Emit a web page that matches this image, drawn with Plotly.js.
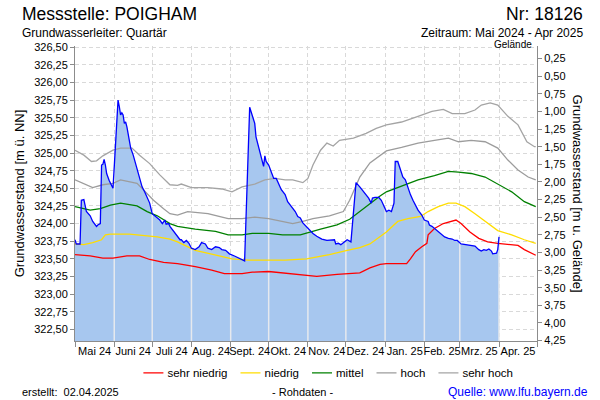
<!DOCTYPE html>
<html><head><meta charset="utf-8">
<script src="https://cdn.plot.ly/plotly-3.0.1.min.js"></script>
<style>html,body{margin:0;padding:0;background:#fff}#chart{width:600px;height:400px}#dbg{position:absolute;left:200px;top:0;color:red;font:10px sans-serif}</style>
</head><body><div id="chart"></div><div id="dbg"></div>
<script>
// ---- data ----
const monthStarts = ["2024-05-01","2024-06-01","2024-07-01","2024-08-01","2024-09-01","2024-10-01","2024-11-01","2024-12-01","2025-01-01","2025-02-01","2025-03-01","2025-04-01","2025-05-01"];
const monthLabels = ["Mai 24","Juni 24","Juli 24","Aug. 24","Sept. 24","Okt. 24","Nov. 24","Dez. 24","Jan. 25","Feb. 25","Mrz. 25","Apr. 25"];

const levelDates = ["2024-05-01","2024-05-02","2024-05-05","2024-05-06","2024-05-08","2024-05-09","2024-05-10","2024-05-13","2024-05-15","2024-05-18","2024-05-19","2024-05-21","2024-05-22","2024-05-23","2024-05-24","2024-05-25","2024-05-26","2024-05-28","2024-05-30","2024-05-31",
"2024-06-01","2024-06-02","2024-06-03","2024-06-04","2024-06-05","2024-06-06","2024-06-07","2024-06-08","2024-06-09","2024-06-10","2024-06-11","2024-06-12","2024-06-13","2024-06-14","2024-06-16","2024-06-18","2024-06-19","2024-06-21","2024-06-23","2024-06-25","2024-06-27","2024-06-29",
"2024-07-01","2024-07-04","2024-07-07","2024-07-09","2024-07-11","2024-07-12","2024-07-14","2024-07-15","2024-07-18","2024-07-20","2024-07-23","2024-07-24","2024-07-26","2024-07-28","2024-07-30",
"2024-08-01","2024-08-04","2024-08-07","2024-08-09","2024-08-12","2024-08-14","2024-08-17","2024-08-20","2024-08-23","2024-08-25","2024-08-28","2024-08-31",
"2024-09-04","2024-09-07","2024-09-10","2024-09-12","2024-09-16","2024-09-18","2024-09-20","2024-09-21","2024-09-23","2024-09-25","2024-09-27","2024-09-28","2024-09-29",
"2024-10-01","2024-10-03","2024-10-05","2024-10-07","2024-10-09","2024-10-11","2024-10-14","2024-10-16","2024-10-19","2024-10-22","2024-10-24","2024-10-26","2024-10-28","2024-10-31",
"2024-11-03","2024-11-05","2024-11-08","2024-11-12","2024-11-16","2024-11-20","2024-11-22","2024-11-23","2024-11-25","2024-11-27","2024-11-29",
"2024-12-02","2024-12-05","2024-12-09","2024-12-12","2024-12-15","2024-12-17","2024-12-19","2024-12-21","2024-12-22","2024-12-24","2024-12-27","2024-12-29","2024-12-31",
"2025-01-02","2025-01-04","2025-01-06","2025-01-08","2025-01-09","2025-01-11","2025-01-13","2025-01-14","2025-01-15","2025-01-17","2025-01-19","2025-01-21","2025-01-23","2025-01-25","2025-01-27","2025-01-30",
"2025-02-01","2025-02-04","2025-02-05","2025-02-07","2025-02-09","2025-02-12","2025-02-15","2025-02-17","2025-02-20","2025-02-23","2025-02-25","2025-02-27",
"2025-03-02","2025-03-05","2025-03-09","2025-03-13","2025-03-16","2025-03-18","2025-03-20","2025-03-22","2025-03-24","2025-03-26","2025-03-27","2025-03-30","2025-03-31","2025-04-01"];
const levelValues = [323.77,323.71,323.71,324.33,324.34,324.26,324.17,324.11,324.03,323.96,323.98,324.00,324.83,324.84,324.91,324.83,324.71,324.61,324.52,324.50,
324.80,325.18,325.44,325.75,325.66,325.54,325.57,325.54,325.42,325.44,325.37,325.28,325.18,325.07,324.97,324.83,324.76,324.62,324.52,324.45,324.38,324.29,
324.14,324.10,324.05,324.00,324.05,323.99,324.00,323.96,323.89,323.84,323.77,323.77,323.73,323.76,323.72,
323.65,323.63,323.67,323.73,323.71,323.65,323.63,323.67,323.66,323.63,323.62,323.57,
323.54,323.51,323.49,323.47,325.65,325.54,325.42,325.23,325.09,324.95,324.81,324.96,324.88,
324.83,324.72,324.64,324.64,324.57,324.48,324.41,324.31,324.24,324.17,324.10,324.08,324.01,323.95,
323.90,323.86,323.82,323.78,323.76,323.76,323.77,323.71,323.72,323.70,323.73,
323.77,323.74,324.58,324.52,324.45,324.39,324.36,324.29,324.36,324.37,324.37,324.33,324.26,
324.17,324.19,324.17,324.29,324.88,324.88,324.76,324.71,324.66,324.62,324.50,324.41,324.33,324.26,324.19,324.12,
324.05,324.03,323.98,323.96,323.93,323.89,323.84,323.81,323.79,323.78,323.76,323.76,
323.71,323.70,323.69,323.68,323.63,323.61,323.63,323.62,323.64,323.61,323.57,323.58,323.63,323.81];

const sehrNiedrigDates = ["2024-05-01","2024-05-13","2024-05-23","2024-05-31","2024-06-11","2024-06-21","2024-06-29","2024-07-10","2024-07-21","2024-08-04","2024-08-17","2024-08-27","2024-09-10","2024-09-18","2024-10-01","2024-10-12","2024-10-26","2024-11-08","2024-11-24","2024-12-12","2024-12-20","2024-12-28","2025-01-02","2025-01-18","2025-01-21","2025-01-25","2025-01-30","2025-02-03","2025-02-04","2025-02-09","2025-02-16","2025-02-23","2025-02-26","2025-03-02","2025-03-09","2025-03-16","2025-03-23","2025-03-31","2025-04-08","2025-04-16","2025-04-21","2025-04-28","2025-04-30"];
const sehrNiedrigValues = [323.56,323.54,323.51,323.51,323.54,323.54,323.49,323.45,323.43,323.39,323.34,323.29,323.29,323.31,323.32,323.30,323.28,323.25,323.28,323.30,323.37,323.42,323.43,323.43,323.50,323.60,323.67,323.72,323.84,323.93,324.00,324.03,324.05,324.00,323.88,323.79,323.74,323.72,323.70,323.69,323.63,323.56,323.55];

const niedrigDates = ["2024-05-01","2024-05-08","2024-05-15","2024-05-22","2024-05-25","2024-05-29","2024-06-13","2024-06-24","2024-07-05","2024-07-15","2024-07-21","2024-08-04","2024-08-20","2024-09-02","2024-09-15","2024-10-14","2024-10-31","2024-11-18","2024-12-02","2024-12-12","2024-12-20","2024-12-28","2025-01-02","2025-01-11","2025-01-19","2025-01-29","2025-02-04","2025-02-12","2025-02-20","2025-02-26","2025-03-05","2025-03-13","2025-03-21","2025-03-31","2025-04-11","2025-04-21","2025-04-30"];
const niedrigValues = [323.71,323.70,323.73,323.77,323.84,323.85,323.85,323.83,323.81,323.78,323.74,323.62,323.55,323.50,323.48,323.48,323.50,323.56,323.62,323.66,323.71,323.81,323.88,324.03,324.07,324.10,324.17,324.24,324.29,324.29,324.24,324.14,324.03,323.90,323.84,323.77,323.72];

const mittelDates = ["2024-05-01","2024-05-13","2024-05-21","2024-05-29","2024-06-06","2024-06-13","2024-06-19","2024-06-27","2024-07-05","2024-07-15","2024-07-21","2024-08-04","2024-08-20","2024-08-30","2024-09-10","2024-09-18","2024-10-01","2024-10-12","2024-10-26","2024-11-11","2024-11-24","2024-12-04","2024-12-12","2024-12-20","2024-12-28","2025-01-02","2025-01-14","2025-01-27","2025-02-09","2025-02-20","2025-02-28","2025-03-10","2025-03-21","2025-03-31","2025-04-11","2025-04-21","2025-04-30"];
const mittelValues = [324.24,324.19,324.21,324.26,324.29,324.27,324.25,324.17,324.11,324.00,323.96,323.92,323.89,323.84,323.84,323.86,323.86,323.84,323.84,323.92,323.98,324.06,324.17,324.29,324.39,324.45,324.53,324.62,324.68,324.74,324.73,324.71,324.66,324.56,324.45,324.31,324.24];

const hochDates = ["2024-05-01","2024-05-08","2024-05-15","2024-05-23","2024-05-31","2024-06-06","2024-06-13","2024-06-19","2024-06-24","2024-07-02","2024-07-10","2024-07-15","2024-07-21","2024-07-29","2024-08-14","2024-08-30","2024-09-10","2024-09-20","2024-10-01","2024-10-12","2024-10-20","2024-10-28","2024-11-05","2024-11-18","2024-11-29","2024-12-04","2024-12-12","2024-12-20","2024-12-28","2025-01-02","2025-01-14","2025-01-27","2025-02-09","2025-02-20","2025-02-28","2025-03-10","2025-03-21","2025-03-31","2025-04-08","2025-04-16","2025-04-24","2025-04-30"];
const hochValues = [324.62,324.56,324.51,324.55,324.57,324.62,324.59,324.57,324.48,324.33,324.21,324.14,324.12,324.17,324.14,324.07,324.07,324.09,324.07,324.03,324.00,324.03,324.07,324.11,324.17,324.33,324.66,324.86,324.97,325.03,325.08,325.14,325.18,325.21,325.16,325.18,325.16,325.07,324.90,324.76,324.66,324.62];

const sehrHochDates = ["2024-05-01","2024-05-08","2024-05-14","2024-05-18","2024-05-23","2024-05-31","2024-06-06","2024-06-15","2024-06-21","2024-06-29","2024-07-07","2024-07-15","2024-07-21","2024-07-24","2024-08-01","2024-08-14","2024-08-25","2024-09-02","2024-09-10","2024-09-20","2024-09-28","2024-10-06","2024-10-14","2024-10-20","2024-10-28","2024-11-01","2024-11-05","2024-11-11","2024-11-16","2024-11-21","2024-11-26","2024-12-07","2024-12-17","2024-12-25","2025-01-02","2025-01-14","2025-01-27","2025-02-07","2025-02-16","2025-02-23","2025-03-05","2025-03-13","2025-03-18","2025-03-25","2025-03-31","2025-04-08","2025-04-16","2025-04-23","2025-04-29","2025-04-30"];
const sehrHochValues = [325.04,324.97,324.88,324.89,324.96,325.04,325.07,325.07,324.97,324.85,324.69,324.55,324.54,324.56,324.51,324.51,324.49,324.45,324.52,324.56,324.62,324.64,324.62,324.62,324.58,324.64,324.83,325.04,325.14,325.10,325.18,325.21,325.28,325.35,325.40,325.44,325.52,325.59,325.62,325.56,325.56,325.61,325.68,325.71,325.68,325.52,325.40,325.16,325.09,325.09];

const groundLevel = 326.59;   // Geländehöhe [m ü. NN]
const levelRange = [322.334, 326.518];

// ---- helpers ----
function fmt(ms){ return new Date(ms).toISOString().slice(0,16).replace('T',' '); }
const midMonths = monthLabels.map((_, i) => fmt((Date.parse(monthStarts[i]) + Date.parse(monthStarts[i+1])) / 2));

// light separators inside the filled area at month starts (up to the measured level)
const sepX = [], sepY = [];
monthStarts.forEach(m => {
  if (m <= levelDates[0] || m > levelDates[levelDates.length-1]) return;
  let idx = 0;
  for (let i = 0; i < levelDates.length; i++) { if (levelDates[i] <= m) idx = i; }
  sepX.push(m, m, null);
  sepY.push(levelRange[0], levelValues[idx], null);
});

// measured level expressed as depth below ground (carries the right-hand axis)
const levelDepths = levelValues.map(v => +(groundLevel - v).toFixed(2));

const grid = '#d9d9d9';
const axisCol = '#8c8c8c';

const traces = [
  {x: levelDates, y: levelValues, type:'scatter', mode:'lines', fill:'tozeroy', fillcolor:'#a7c7ef',
   line:{width:0, color:'#a7c7ef'}, showlegend:false, hoverinfo:'skip'},
  {x: sepX, y: sepY, type:'scatter', mode:'lines', line:{color:'#e6e9ee', width:1.5}, showlegend:false, hoverinfo:'skip'},
  {x: sehrNiedrigDates, y: sehrNiedrigValues, name:'sehr niedrig', type:'scatter', mode:'lines', line:{color:'#ff0000', width:1.3}},
  {x: niedrigDates, y: niedrigValues, name:'niedrig', type:'scatter', mode:'lines', line:{color:'#ffdd00', width:1.3}},
  {x: mittelDates, y: mittelValues, name:'mittel', type:'scatter', mode:'lines', line:{color:'#008000', width:1.3}},
  {x: hochDates, y: hochValues, name:'hoch', type:'scatter', mode:'lines', line:{color:'#9c9c9c', width:1.3}},
  {x: sehrHochDates, y: sehrHochValues, name:'sehr hoch', type:'scatter', mode:'lines', line:{color:'#a4a4a4', width:1.3}},
  {x: levelDates, y: levelValues, type:'scatter', mode:'lines', line:{color:'#0000ff', width:1.3}, showlegend:false, hoverinfo:'skip'},
  {x: levelDates, y: levelDepths, yaxis:'y2', type:'scatter', mode:'lines', line:{color:'rgba(0,0,255,0)', width:0}, showlegend:false, hoverinfo:'skip'}
];

const font = 'Liberation Sans, Arial, sans-serif';
const legendCenter = 0.548;

const layout = {
  width: 600, height: 400,
  margin: {l:75, r:63, t:46, b:59, pad:0, autoexpand:false},
  paper_bgcolor:'#fff', plot_bgcolor:'#fff',
  font: {family: font, size: 11, color:'#000'},
  separators: ',.',
  showlegend: true,
  legend: {orientation:'h', x:legendCenter, xanchor:'center', y:-0.108, yanchor:'middle',
           font:{size:11.5, color:'#000'}, bgcolor:'rgba(0,0,0,0)', itemwidth:30, traceorder:'normal'},
  xaxis: {
    type:'date', range:[monthStarts[0], monthStarts[monthStarts.length-1]],
    tickmode:'array', tickvals: midMonths, ticktext: monthLabels, ticks:'', tickangle:0, automargin:false,
    showgrid:false, zeroline:false, showline:true, linecolor:axisCol, linewidth:1,
    tickfont:{size:11, color:'#000'},
    minor:{tickmode:'array', tickvals: monthStarts, ticks:'outside', ticklen:5, tickcolor:axisCol,
           showgrid:true, gridcolor:grid, gridwidth:1, griddash:'4px,3px'}
  },
  yaxis: {
    range: levelRange, tick0: 322.5, dtick: 0.25, tickformat: '.2f', automargin:false,
    ticks:'outside', ticklen:4, tickcolor:axisCol, showline:true, linecolor:axisCol, linewidth:1,
    showgrid:true, gridcolor:grid, gridwidth:1, griddash:'4px,3px', zeroline:false,
    tickfont:{size:11, color:'#000'},
    title:{text:'Grundwasserstand [m ü. NN]', font:{size:13, color:'#000'}, standoff:6}
  },
  yaxis2: {
    overlaying:'y', side:'right', anchor:'x', automargin:false,
    range:[groundLevel - levelRange[0], groundLevel - levelRange[1]],
    tickmode:'linear', tick0: 0.25, dtick: 0.25, tickformat: '.2f',
    ticks:'outside', ticklen:4, tickcolor:axisCol, showline:true, linecolor:axisCol, linewidth:1,
    showgrid:false, zeroline:false, tickfont:{size:11, color:'#000'}
  },
  annotations: [
    {text:'Messstelle: POIGHAM', xref:'paper', yref:'paper', x:-0.119, y:1.108, xanchor:'left', yanchor:'middle', showarrow:false, font:{size:17.5, color:'#000'}},
    {text:'Nr: 18126', xref:'paper', yref:'paper', x:1.104, y:1.108, xanchor:'right', yanchor:'middle', showarrow:false, font:{size:17.5, color:'#000'}},
    {text:'Grundwasserleiter: Quartär', xref:'paper', yref:'paper', x:-0.119, y:1.044, xanchor:'left', yanchor:'middle', showarrow:false, font:{size:12, color:'#000'}},
    {text:'Zeitraum: Mai 2024 - Apr 2025', xref:'paper', yref:'paper', x:1.104, y:1.044, xanchor:'right', yanchor:'middle', showarrow:false, font:{size:12, color:'#000'}},
    {text:'Gelände', xref:'paper', yref:'paper', x:1, xshift:-3, y:1, yshift:2, xanchor:'right', yanchor:'middle', showarrow:false, font:{size:10, color:'#000'}},
    {text:'Grundwasserstand [m u. Gelände]', xref:'paper', yref:'paper', x:1.0887, y:0.50, xanchor:'center', yanchor:'middle', textangle:90, showarrow:false, font:{size:13, color:'#000'}},
    {text:'erstellt:\u00a0\u00a002.04.2025', xref:'paper', yref:'paper', x:-0.119, y:-0.173, xanchor:'left', yanchor:'middle', showarrow:false, font:{size:11, color:'#000'}},
    {text:'- Rohdaten -', xref:'paper', yref:'paper', x:0.4935, y:-0.173, xanchor:'center', yanchor:'middle', showarrow:false, font:{size:11, color:'#000'}},
    {text:'Quelle: www.lfu.bayern.de', xref:'paper', yref:'paper', x:1.1147, y:-0.173, xanchor:'right', yanchor:'middle', showarrow:false, font:{size:12, color:'#0000ff'}}
  ]
};

// compact legend entries (short line sample, tight spacing) after Plotly has drawn them,
// by shifting each sample and label with extra translate() transforms measured on screen
function compactLegend(gd) {
  const dbg = document.getElementById('dbg');
  try {
    const legend = gd.querySelector('g.legend');
    if (!legend) return;
    const sample = 20, textGap = 4, entryGap = 13;
    const entries = [];
    legend.querySelectorAll('g.traces').forEach(g => {
      const paths = Array.from(g.querySelectorAll('path')).filter(p => /^M5,0h\d+/.test(p.getAttribute('d') || ''));
      const txt = g.querySelector('text.legendtext') || g.querySelector('text');
      if (!paths.length || !txt) return;
      paths.forEach(p => p.setAttribute('d', 'M5,0h' + sample));
      entries.push({paths, txt});
    });
    if (!entries.length) return;
    const origin = gd.getBoundingClientRect().left;
    entries.forEach(e => {
      e.pathLeft = e.paths[0].getBBox ? (e.paths[0].getBoundingClientRect().left - origin) : 0;
      e.textLeft = e.txt.getBoundingClientRect().left - origin;
      e.textW = e.txt.getBoundingClientRect().width;
    });
    entries.sort((a, b) => a.pathLeft - b.pathLeft);
    const total = entries.reduce((s, e) => s + sample + textGap + e.textW, 0) + entryGap * (entries.length - 1);
    const size = gd._fullLayout._size;
    let cursor = size.l + legendCenter * size.w - total / 2;
    const addShift = (el, dx) => {
      const prev = el.getAttribute('transform') || '';
      el.setAttribute('transform', (prev + ' translate(' + dx.toFixed(2) + ',0)').trim());
    };
    entries.forEach(e => {
      const dxPath = cursor - e.pathLeft;
      e.paths.forEach(p => addShift(p, dxPath));
      const dxText = (cursor + sample + textGap) - e.textLeft;
      addShift(e.txt, dxText);
      cursor += sample + textGap + e.textW + entryGap;
    });
  } catch (err) { dbg.textContent = 'err: ' + err.message; }
}

const gdEl = document.getElementById('chart');
Plotly.newPlot(gdEl, traces, layout, {staticPlot:true, displayModeBar:false}).then(gd => {
  compactLegend(gd);
});
</script>
</body></html>
